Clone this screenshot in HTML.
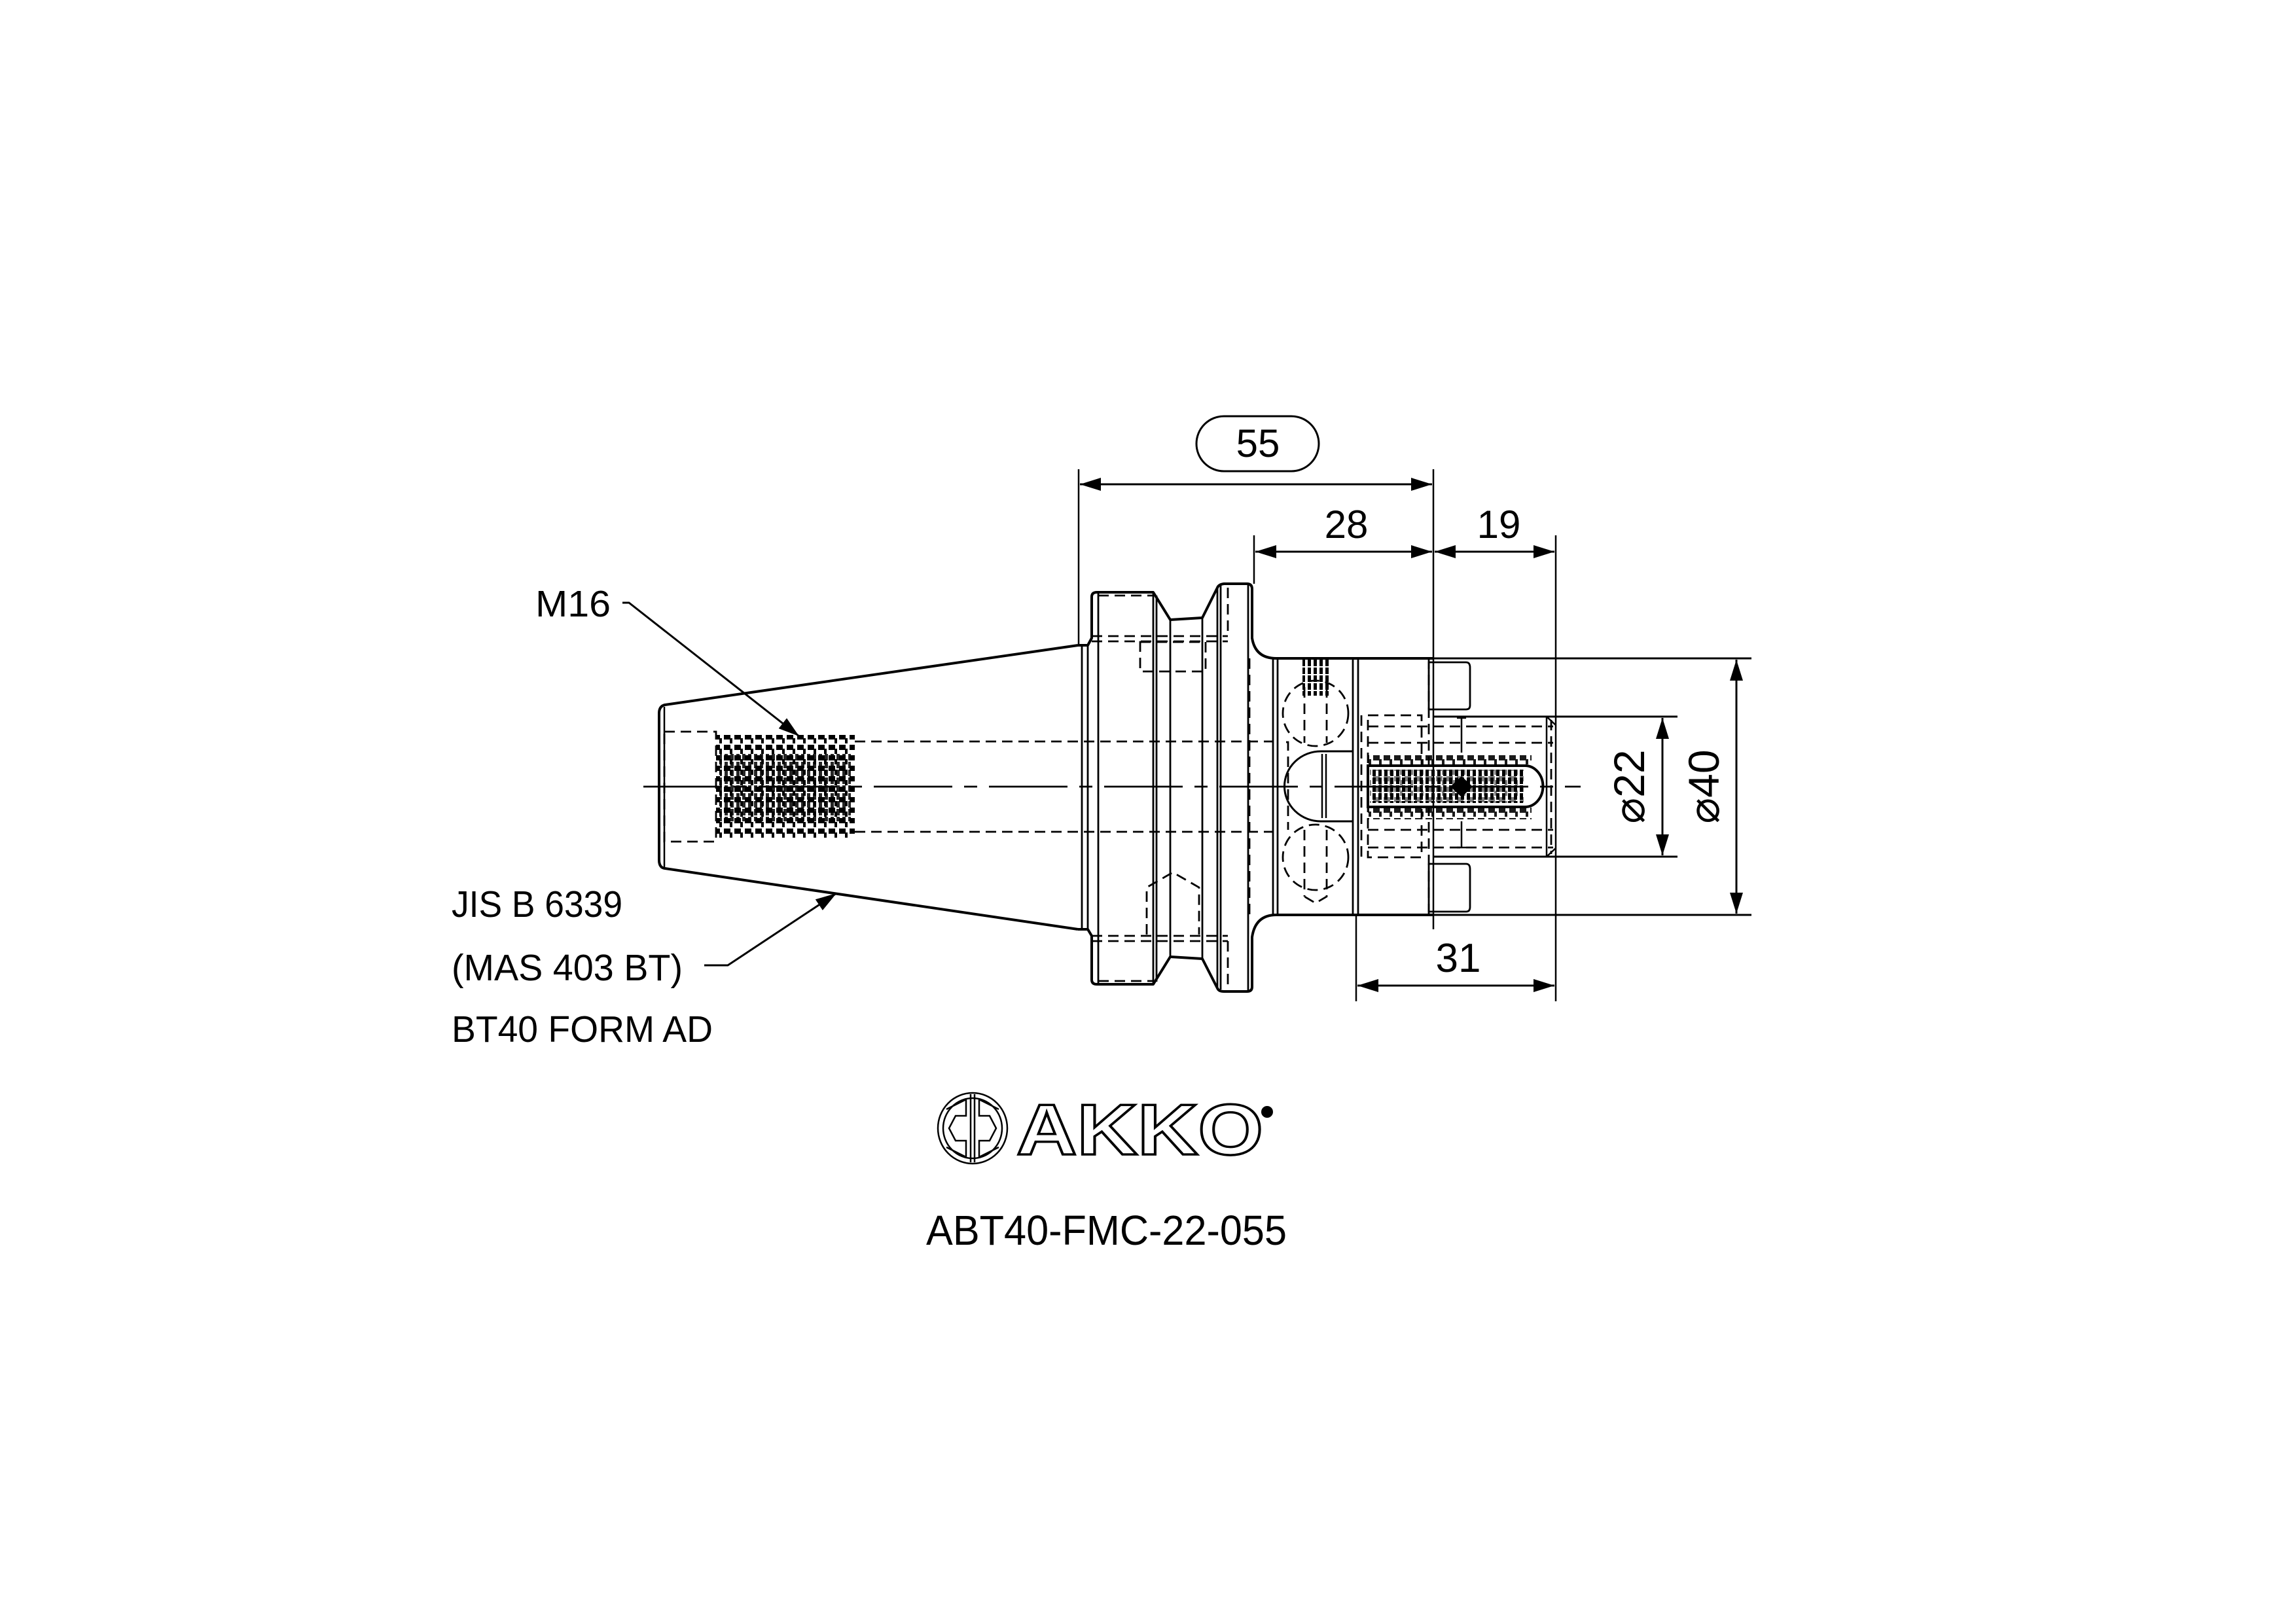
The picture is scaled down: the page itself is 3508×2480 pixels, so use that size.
<!DOCTYPE html>
<html><head><meta charset="utf-8"><style>html,body{margin:0;padding:0;background:#fff}svg{display:block}</style></head>
<body>
<svg width="3508" height="2480" viewBox="0 0 3508 2480" xmlns="http://www.w3.org/2000/svg">
<defs>
<marker id="ar" viewBox="0 0 32 20" refX="32" refY="10" markerWidth="32" markerHeight="20" markerUnits="userSpaceOnUse" orient="auto-start-reverse"><path d="M0,0 L32,10 L0,20 Z" fill="#000"/></marker>
<pattern id="th" width="16" height="16" patternUnits="userSpaceOnUse"><rect x="2" y="2" width="10" height="8" fill="#000"/><rect x="11" y="8" width="4" height="8" fill="#000"/></pattern>
<pattern id="th2" width="9" height="12" patternUnits="userSpaceOnUse"><rect x="0" y="0" width="5" height="10" fill="#000"/></pattern>
</defs>
<rect width="3508" height="2480" fill="#fff"/>
<g fill="none" stroke="#000" stroke-width="4" stroke-linejoin="round">
<path d="M1647,986 L1016,1077 Q1007,1079 1007,1090 L1007,1314 Q1007,1326 1016,1327 L1647,1420"/>
<line x1="1015" y1="1080" x2="1015" y2="1325" stroke-width="2.5"/>
<path d="M1647,986 L1662,986 L1668,975 L1668,912 Q1668,905 1676,905 L1762,905 L1788,947 L1837,944 L1860,898 Q1862,893 1870,892 L1905,892 Q1913,892 1913,900 L1913,975 Q1918,1006 1950,1006 L2190,1006"/>
<path d="M1647,1420 L1662,1420 L1668,1430 L1668,1497 Q1668,1504 1676,1504 L1762,1504 L1788,1462 L1837,1465 L1860,1510 Q1862,1515 1870,1515 L1905,1515 Q1913,1515 1913,1508 L1913,1432 Q1918,1398 1950,1398 L2190,1398"/>
<g stroke-width="2.8">
<line x1="1653" y1="988" x2="1653" y2="1420"/>
<line x1="1662" y1="986" x2="1662" y2="1420"/>
<line x1="1678" y1="905" x2="1678" y2="1504"/>
<line x1="1762" y1="905" x2="1762" y2="1504"/>
<line x1="1767" y1="910" x2="1767" y2="1500"/>
<line x1="1788" y1="947" x2="1788" y2="1462"/>
<line x1="1837" y1="944" x2="1837" y2="1465"/>
<line x1="1860" y1="898" x2="1860" y2="1510"/>
<line x1="1865" y1="895" x2="1865" y2="1512"/>
<line x1="1907" y1="894" x2="1907" y2="1514"/>
<line x1="1945" y1="1006" x2="1945" y2="1398"/>
<line x1="1952" y1="1006" x2="1952" y2="1398"/>
<path d="M2067,1006 L2067,1398 M2075,1006 L2075,1398"/>
</g>
<line x1="2190" y1="1006" x2="2676" y2="1006" stroke-width="3"/>
<line x1="2190" y1="1398" x2="2676" y2="1398" stroke-width="3"/>
<path d="M2190,1095 L2563,1095 M2190,1309 L2563,1309" stroke-width="3"/>
<path d="M2377,1095 L2377,1309 M2363,1095 L2377,1108 M2363,1309 L2377,1296 M2363,1095 L2363,1309" stroke-width="2.5"/>
<path d="M2183,1012 L2240,1012 Q2246,1012 2246,1020 L2246,1078 Q2246,1084 2240,1084 L2183,1084 Z" stroke-width="2.8"/>
<path d="M2183,1320 L2240,1320 Q2246,1320 2246,1328 L2246,1386 Q2246,1393 2240,1393 L2183,1393 Z" stroke-width="2.8"/>
<path d="M2067,1148 L2018,1148 A55,53 0 0 0 2018,1255 L2067,1255" stroke-width="3"/>
<line x1="2020" y1="1152" x2="2020" y2="1250" stroke-width="2.5"/>
<line x1="2026" y1="1152" x2="2026" y2="1250" stroke-width="2.5"/>
</g>
<g fill="none" stroke="#000" stroke-width="2.8" stroke-dasharray="16,9">
<rect x="1015" y="1118" width="79" height="168"/>
<line x1="1306" y1="1133" x2="1945" y2="1133"/>
<line x1="1306" y1="1271" x2="1945" y2="1271"/>
<line x1="1668" y1="972" x2="1876" y2="972"/>
<line x1="1668" y1="980" x2="1876" y2="980"/>
<line x1="1668" y1="1430" x2="1876" y2="1430"/>
<line x1="1668" y1="1438" x2="1876" y2="1438"/>
<line x1="1678" y1="910" x2="1762" y2="910"/>
<line x1="1678" y1="1499" x2="1762" y2="1499"/>
<line x1="1876" y1="898" x2="1876" y2="972"/>
<line x1="1876" y1="1438" x2="1876" y2="1512"/>
<line x1="1909" y1="1006" x2="1909" y2="1398"/>
<rect x="1742" y="981" width="100" height="45"/>
<path d="M1752,1428 L1752,1356 L1792,1333 L1832,1356 L1832,1428"/>
<circle cx="2010" cy="1090" r="50"/>
<circle cx="2010" cy="1310" r="50"/>
<path d="M1993,1050 L1993,1135 M2027,1050 L2027,1135 M1993,1268 L1993,1370 M2027,1268 L2027,1370 L2010,1380 L1993,1370"/>
<path d="M1965,1134 L1968,1134 L1968,1268"/>
<rect x="2090" y="1093" width="82" height="217"/>
<path d="M2090,1110 L2373,1110 M2090,1135 L2373,1135 M2090,1268 L2373,1268 M2090,1295 L2373,1295"/>
<line x1="2370" y1="1100" x2="2370" y2="1305"/>
<line x1="2183" y1="1006" x2="2183" y2="1398"/>
<line x1="2080" y1="1093" x2="2080" y2="1310"/>
</g>
<rect x="1094" y="1123" width="212" height="158" fill="url(#th)"/>
<rect x="1100" y="1150" width="200" height="105" fill="url(#th2)" opacity="0.85"/>
<rect x="1990" y="1007" width="40" height="56" fill="url(#th2)"/>
<rect x="2090" y="1152" width="250" height="100" fill="url(#th)" opacity="0.9"/>
<path d="M2090,1170 L2330,1170 A27,31 0 0 1 2330,1233 L2090,1233 Z" fill="#fff" stroke="#000" stroke-width="4"/>
<rect x="2093" y="1176" width="235" height="51" fill="url(#th2)"/>
<rect x="2093" y="1176" width="235" height="51" fill="url(#th)" opacity="0.5"/>
<path d="M2233,1186 L2250,1202 L2233,1218 L2216,1202 Z" fill="#000"/>
<path d="M2233,1097 L2233,1150 M2233,1255 L2233,1295 M2226,1097 L2240,1097 M2226,1295 L2240,1295" stroke="#000" stroke-width="2.5"/>
<line x1="983" y1="1202" x2="2415" y2="1202" stroke="#000" stroke-width="2.8" stroke-dasharray="120,18,20,18"/>
<g stroke="#000" stroke-width="2.5" fill="none">
<line x1="1648" y1="717" x2="1648" y2="986"/>
<line x1="2190" y1="717" x2="2190" y2="1420"/>
<line x1="1916" y1="818" x2="1916" y2="892"/>
<line x1="2377" y1="818" x2="2377" y2="1095"/>
<line x1="2377" y1="1309" x2="2377" y2="1530"/>
<line x1="2072" y1="1398" x2="2072" y2="1530"/>
<line x1="1650" y1="740" x2="2188" y2="740" stroke-width="3" marker-start="url(#ar)" marker-end="url(#ar)"/>
<line x1="1918" y1="843" x2="2188" y2="843" stroke-width="3" marker-start="url(#ar)" marker-end="url(#ar)"/>
<line x1="2192" y1="843" x2="2375" y2="843" stroke-width="3" marker-start="url(#ar)" marker-end="url(#ar)"/>
<line x1="2074" y1="1506" x2="2375" y2="1506" stroke-width="3" marker-start="url(#ar)" marker-end="url(#ar)"/>
<line x1="2540" y1="1097" x2="2540" y2="1307" stroke-width="3" marker-start="url(#ar)" marker-end="url(#ar)"/>
<line x1="2653" y1="1008" x2="2653" y2="1396" stroke-width="3" marker-start="url(#ar)" marker-end="url(#ar)"/>
<rect x="1828" y="636" width="187" height="84" rx="42" ry="42" stroke-width="3"/>
<polyline points="951,921 961,921 1221,1125" stroke-width="3" marker-end="url(#ar)"/>
<polyline points="1076,1475 1112,1475 1278,1365" stroke-width="3" marker-end="url(#ar)"/>
</g>
<g font-family="'Liberation Sans', sans-serif" fill="#000">
<text x="1922" y="698" font-size="60" text-anchor="middle">55</text>
<text x="2057" y="822" font-size="60" text-anchor="middle">28</text>
<text x="2290" y="822" font-size="60" text-anchor="middle">19</text>
<text x="2228" y="1485" font-size="62" text-anchor="middle">31</text>
<text transform="translate(2512,1202) rotate(-90)" font-size="66" text-anchor="middle">⌀22</text>
<text transform="translate(2626,1202) rotate(-90)" font-size="66" text-anchor="middle">⌀40</text>
<text x="818" y="942" font-size="57" textLength="115" lengthAdjust="spacingAndGlyphs">M16</text>
<text x="690" y="1401" font-size="57" textLength="261" lengthAdjust="spacingAndGlyphs">JIS B 6339</text>
<text x="690" y="1498" font-size="57" textLength="353" lengthAdjust="spacingAndGlyphs">(MAS 403 BT)</text>
<text x="690" y="1592" font-size="57" textLength="399" lengthAdjust="spacingAndGlyphs">BT40 FORM AD</text>
<text x="1415" y="1902" font-size="64" textLength="551" lengthAdjust="spacingAndGlyphs">ABT40-FMC-22-055</text>
<text x="1553" y="1764" font-size="110" font-weight="bold" fill="#fff" stroke="#000" stroke-width="3.5" textLength="377" lengthAdjust="spacingAndGlyphs">AKKO</text>
</g>
<g fill="none" stroke="#000" stroke-width="2.5">
<ellipse cx="1486" cy="1724" rx="53" ry="54"/>
<ellipse cx="1486" cy="1724" rx="45" ry="46"/>
<path d="M1483,1672 L1483,1776 M1489,1672 L1489,1776"/>
<path d="M1476,1678 L1476,1705 L1460,1705 L1450,1724 L1460,1743 L1476,1743 L1476,1770"/>
<path d="M1496,1678 L1496,1705 L1512,1705 L1522,1724 L1512,1743 L1496,1743 L1496,1770"/>
<path d="M1446,1695 L1476,1680 M1446,1753 L1476,1768 M1526,1695 L1496,1680 M1526,1753 L1496,1768"/>
</g>
<circle cx="1936" cy="1699" r="9" fill="#000"/>
</svg>
</body></html>
